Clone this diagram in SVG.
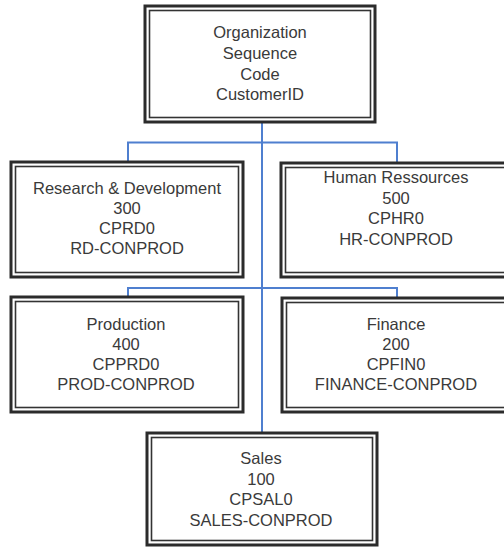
<svg xmlns="http://www.w3.org/2000/svg" width="504" height="550" viewBox="0 0 504 550">
<style>
.o{fill:#fff;stroke:#2b2b2b;stroke-width:3}
.i{fill:none;stroke:#333;stroke-width:1.6}
.t{font-family:"Liberation Sans",Arial,sans-serif;font-size:16.5px;fill:#3a3a3a;text-anchor:middle}
.c{fill:none;stroke:#4f7fcf;stroke-width:2}
</style>
<rect width="504" height="550" fill="#fff"/>
<g id="connectors">
<path class="c" d="M262,122 V433"/>
<path class="c" d="M128,162 V142.5 H397 V163"/>
<path class="c" d="M128,297 V288 H397 V298"/>
</g>
<g id="org">
<rect class="o" x="145" y="6" width="230" height="116"/>
<rect class="i" x="149.5" y="10.5" width="221" height="107"/>
<text class="t" x="260" y="38">Organization</text>
<text class="t" x="260" y="59">Sequence</text>
<text class="t" x="260" y="79.5">Code</text>
<text class="t" x="260" y="100">CustomerID</text>
</g>
<g id="rd">
<rect class="o" x="11" y="162" width="232" height="115"/>
<rect class="i" x="15.5" y="166.5" width="223" height="106"/>
<text class="t" x="127" y="194">Research &amp; Development</text>
<text class="t" x="127" y="214">300</text>
<text class="t" x="127" y="234">CPRD0</text>
<text class="t" x="127" y="254">RD-CONPROD</text>
</g>
<g id="hr">
<rect class="o" x="281" y="163" width="232" height="114"/>
<rect class="i" x="285.5" y="167.5" width="223" height="105"/>
<text class="t" x="396" y="183">Human Ressources</text>
<text class="t" x="396" y="203.5">500</text>
<text class="t" x="396" y="224">CPHR0</text>
<text class="t" x="396" y="245">HR-CONPROD</text>
</g>
<g id="prod">
<rect class="o" x="11" y="297" width="232" height="115"/>
<rect class="i" x="15.5" y="301.5" width="223" height="106"/>
<text class="t" x="126" y="330">Production</text>
<text class="t" x="126" y="350">400</text>
<text class="t" x="126" y="370">CPPRD0</text>
<text class="t" x="126" y="390">PROD-CONPROD</text>
</g>
<g id="fin">
<rect class="o" x="282" y="298" width="231" height="114"/>
<rect class="i" x="286.5" y="302.5" width="222" height="105"/>
<text class="t" x="396" y="330">Finance</text>
<text class="t" x="396" y="350">200</text>
<text class="t" x="396" y="370">CPFIN0</text>
<text class="t" x="396" y="390">FINANCE-CONPROD</text>
</g>
<g id="sales">
<rect class="o" x="147" y="433" width="230" height="112"/>
<rect class="i" x="151.5" y="437.5" width="221" height="103"/>
<text class="t" x="261" y="464">Sales</text>
<text class="t" x="261" y="485">100</text>
<text class="t" x="261" y="505">CPSAL0</text>
<text class="t" x="261" y="526">SALES-CONPROD</text>
</g>
</svg>
